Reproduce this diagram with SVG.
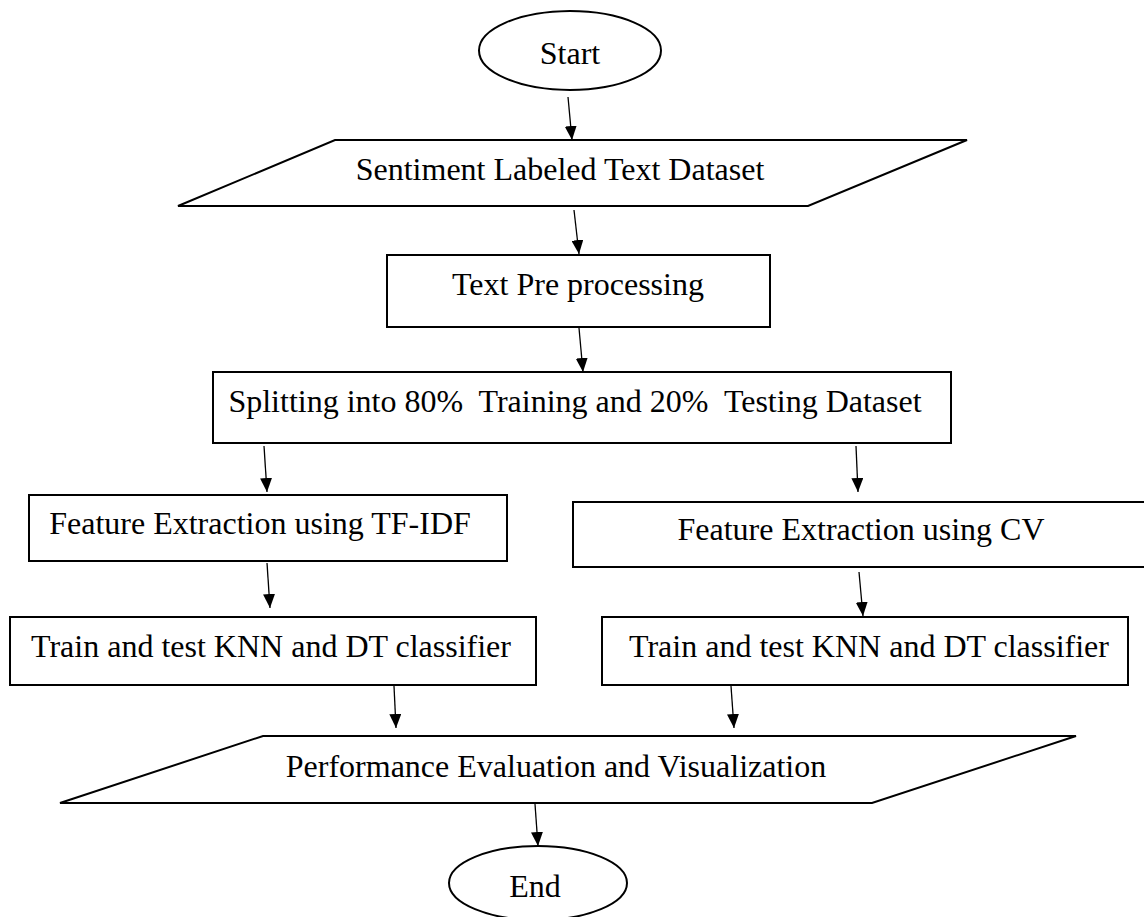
<svg xmlns="http://www.w3.org/2000/svg" width="1144" height="917" viewBox="0 0 1144 917">
<style>
.shape{fill:#fff;stroke:#000;stroke-width:2}
.lbl{font-family:"Liberation Serif","Times New Roman",serif;font-size:32px;fill:#000;text-anchor:middle}
.conn{stroke:#000;stroke-width:1.3;fill:none;marker-end:url(#ah)}
</style>
<defs>
<marker id="ah" viewBox="0 0 14 12" refX="14" refY="6" markerWidth="14" markerHeight="12" markerUnits="userSpaceOnUse" orient="auto">
<polygon points="0,0 14,6 0,12" fill="#000"/>
</marker>
</defs>
<rect width="1144" height="917" fill="#fff"/>
<g id="start"><ellipse class="shape" cx="570" cy="50.5" rx="91" ry="39.5"/><text class="lbl" x="570" y="64">Start</text></g>
<g id="dataset"><polygon class="shape" points="335,140 967,140 808,206 178,206"/><text class="lbl" x="560" y="180">Sentiment Labeled Text Dataset</text></g>
<g id="preprocess"><rect class="shape" x="387" y="255" width="383" height="72"/><text class="lbl" x="578" y="295">Text Pre processing</text></g>
<g id="split"><rect class="shape" x="213" y="372" width="738" height="71"/><text class="lbl" x="575" y="412" xml:space="preserve">Splitting into 80%  Training and 20%  Testing Dataset</text></g>
<g id="tfidf"><rect class="shape" x="29" y="495" width="478" height="66"/><text class="lbl" x="260" y="534">Feature Extraction using TF-IDF</text></g>
<g id="cv"><rect class="shape" x="573" y="502" width="575" height="65"/><text class="lbl" x="861" y="540">Feature Extraction using CV</text></g>
<g id="trainL"><rect class="shape" x="10" y="617" width="526" height="68"/><text class="lbl" x="271" y="657">Train and test KNN and DT classifier</text></g>
<g id="trainR"><rect class="shape" x="602" y="617" width="526" height="68"/><text class="lbl" x="869" y="657">Train and test KNN and DT classifier</text></g>
<g id="perf"><polygon class="shape" points="263,736 1076,736 872,803 60,803"/><text class="lbl" x="556" y="777">Performance Evaluation and Visualization</text></g>
<g id="end"><ellipse class="shape" cx="538" cy="883" rx="89" ry="37"/><text class="lbl" x="535" y="897">End</text></g>
<g id="connectors">
<line class="conn" x1="568" y1="97" x2="572" y2="140"/>
<line class="conn" x1="574" y1="210" x2="579" y2="254"/>
<line class="conn" x1="579" y1="328" x2="583" y2="372"/>
<line class="conn" x1="264" y1="446" x2="267" y2="492"/>
<line class="conn" x1="856" y1="446" x2="858" y2="492"/>
<line class="conn" x1="267" y1="563" x2="270" y2="608"/>
<line class="conn" x1="859" y1="572" x2="863" y2="616"/>
<line class="conn" x1="394" y1="686" x2="396" y2="728"/>
<line class="conn" x1="731" y1="686" x2="734" y2="728"/>
<line class="conn" x1="535" y1="804" x2="538" y2="846"/>
</g>
</svg>
